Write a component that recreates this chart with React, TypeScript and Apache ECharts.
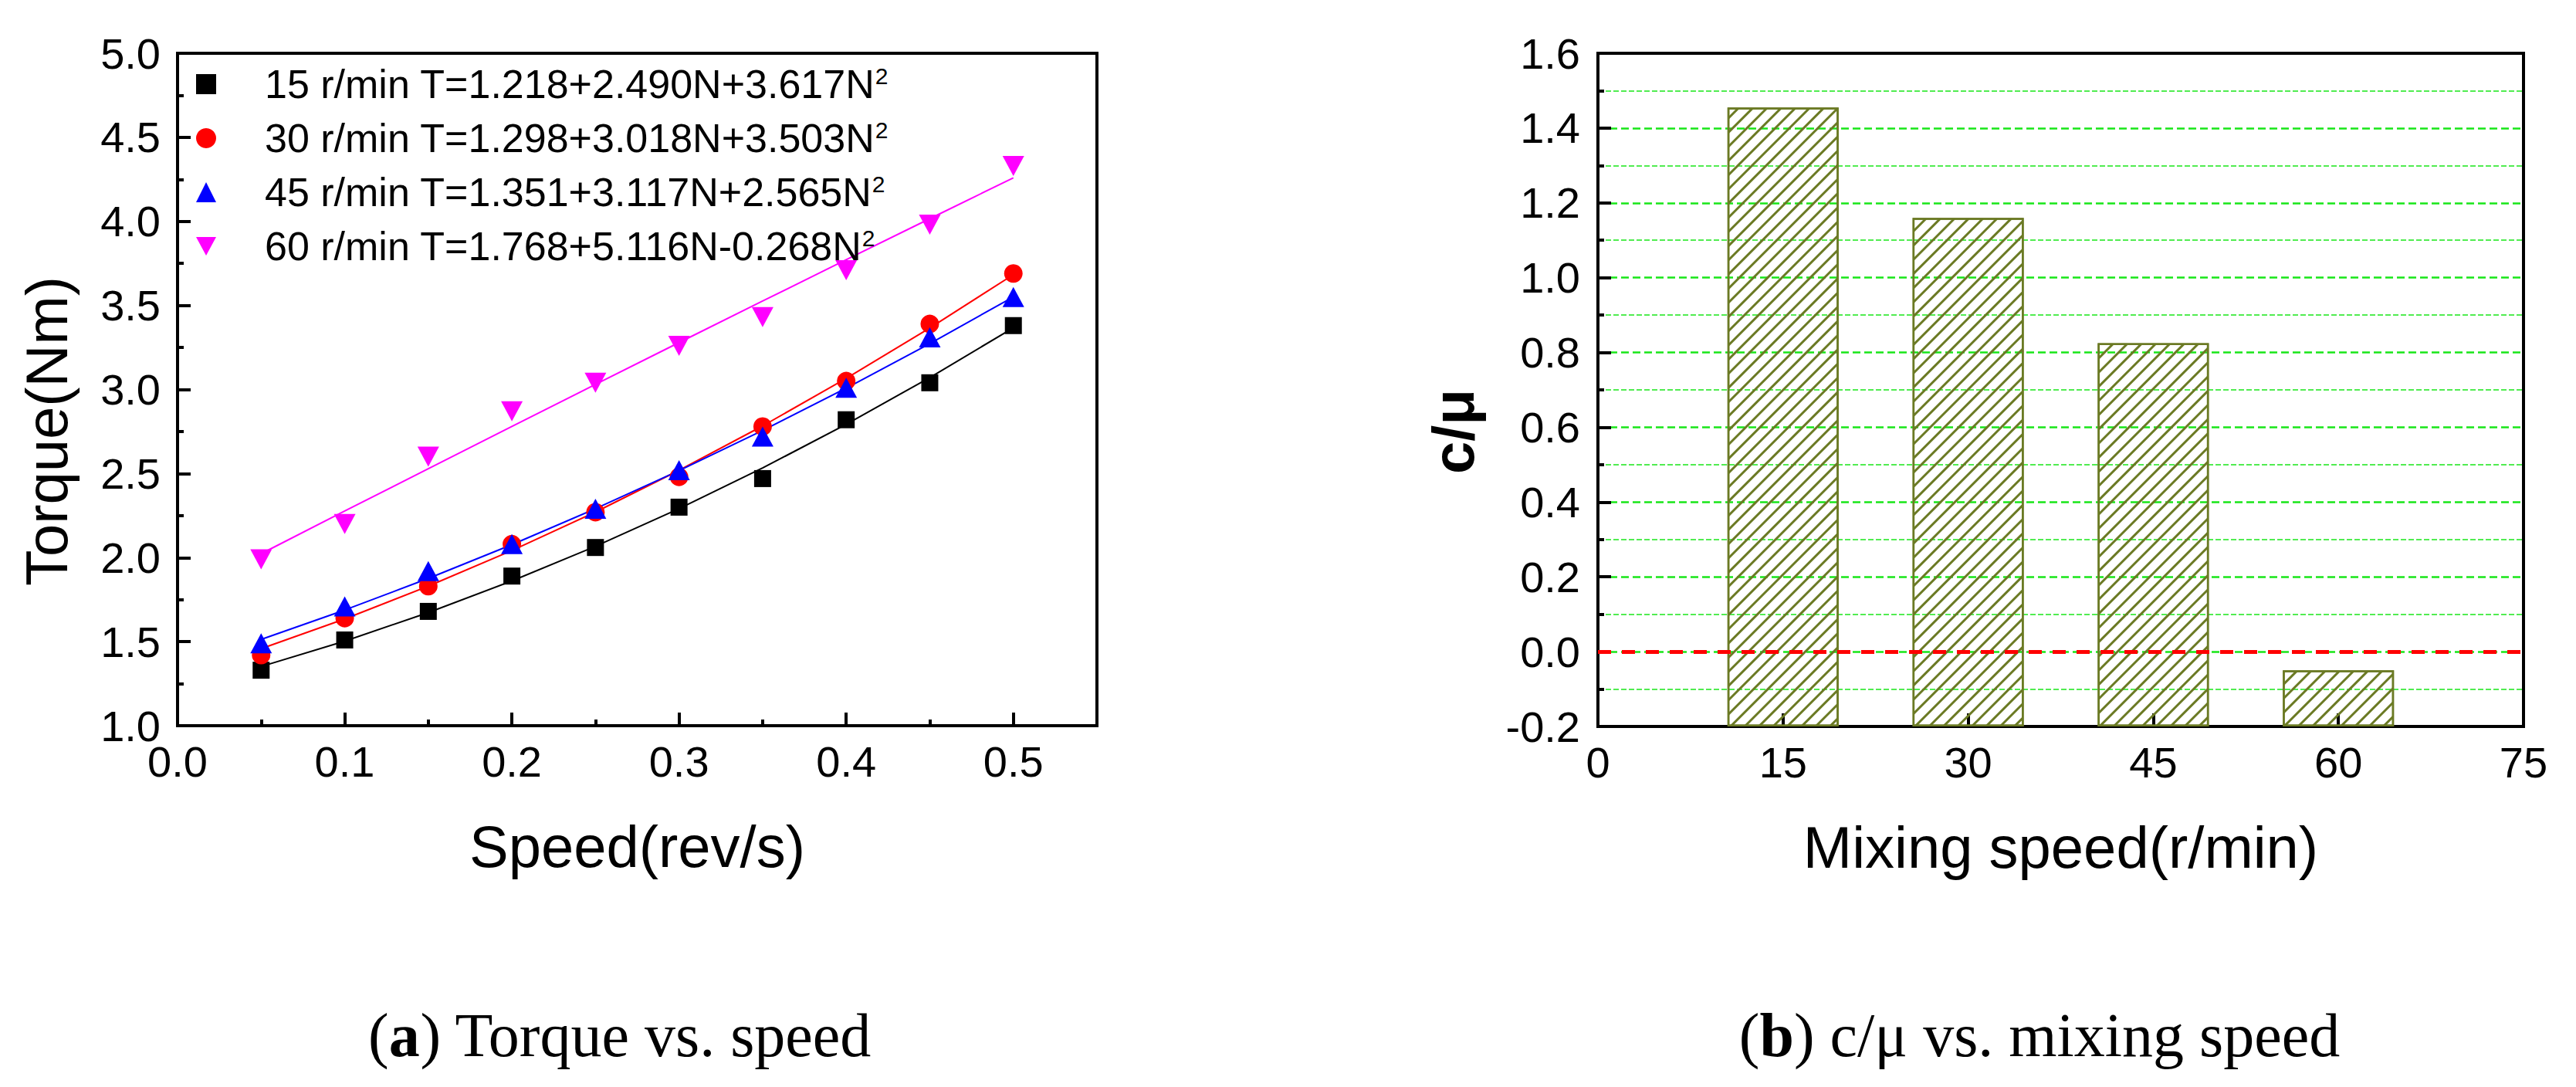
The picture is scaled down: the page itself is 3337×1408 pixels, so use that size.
import { useEffect, useRef } from 'react'
import * as echarts from 'echarts'

// panel (a): torque vs speed
const speeds = [0.05, 0.1, 0.15, 0.2, 0.25, 0.3, 0.35, 0.4, 0.45, 0.5]
const torque15 = [1.33, 1.51, 1.68, 1.89, 2.06, 2.3, 2.47, 2.82, 3.04, 3.38]
const torque30 = [1.42, 1.64, 1.83, 2.08, 2.27, 2.48, 2.78, 3.05, 3.39, 3.69]
const torque45 = [1.49, 1.71, 1.92, 2.08, 2.29, 2.52, 2.72, 3.01, 3.31, 3.55]
const torque60 = [1.99, 2.2, 2.6, 2.87, 3.04, 3.26, 3.43, 3.71, 3.98, 4.33]
const fit15 = [1.352, 1.503, 1.673, 1.861, 2.067, 2.291, 2.533, 2.793, 3.071, 3.367]
const fit30 = [1.458, 1.635, 1.83, 2.042, 2.271, 2.519, 2.783, 3.066, 3.366, 3.683]
const fit45 = [1.513, 1.688, 1.876, 2.077, 2.291, 2.517, 2.756, 3.008, 3.273, 3.551]
const fit60 = [2.023, 2.277, 2.529, 2.78, 3.03, 3.279, 3.526, 3.772, 4.016, 4.259]
const seriesNames = ['15 r/min', '30 r/min', '45 r/min', '60 r/min']
const fitTexts = ['T=1.218+2.490N+3.617N', 'T=1.298+3.018N+3.503N', 'T=1.351+3.117N+2.565N', 'T=1.768+5.116N-0.268N']

// panel (b): c/mu vs mixing speed
const mixingSpeeds = [15, 30, 45, 60]
const cOverMu = [1.455, 1.16, 0.825, -0.05]

const SANS = 'Liberation Sans'
const SERIF = 'Liberation Serif'
const OLIVE = '#6b7a24'
const GREEN = '#19e619'
const DOWN_TRIANGLE = 'path://M0,0L28,0L14,26Z'

function pairs(xs: number[], ys: number[]) {
  return xs.map((x, i) => [x, ys[i]])
}

function baseAxis(gridIndex: number) {
  return {
    gridIndex,
    type: 'value' as const,
    axisLine: { show: true, onZero: false, lineStyle: { color: '#000', width: 4 } },
    axisTick: { show: true, inside: true, length: 17, lineStyle: { color: '#000', width: 4 } },
    minorTick: { show: true, splitNumber: 2, length: 8, lineStyle: { color: '#000', width: 4 } },
    splitLine: { show: false },
    nameLocation: 'middle' as const,
    nameTextStyle: { fontFamily: SANS, fontSize: 76, color: '#000' },
  }
}

function caption(letter: string, rest: string, left: number) {
  return {
    text: `{p|(}{b|${letter}}{p|) ${rest}}`,
    left,
    top: 1296,
    textAlign: 'center',
    textStyle: {
      rich: {
        b: { fontFamily: SERIF, fontSize: 80, fontWeight: 'bold', color: '#000' },
        p: { fontFamily: SERIF, fontSize: 80, fontWeight: 'normal', color: '#000' },
      },
    },
  }
}

export default function App() {
  const ref = useRef<HTMLDivElement | null>(null)

  useEffect(() => {
    const host = ref.current
    if (!host) return
    document.body.style.margin = '0'
    const chart = echarts.init(host, undefined, { renderer: 'svg' })

    const scatterDefs = [
      { name: seriesNames[0], data: torque15, fit: fit15, color: '#000000', symbol: 'rect', size: 22 },
      { name: seriesNames[1], data: torque30, fit: fit30, color: '#ff0000', symbol: 'circle', size: 24 },
      { name: seriesNames[2], data: torque45, fit: fit45, color: '#0000ff', symbol: 'triangle', size: [28, 26] },
      { name: seriesNames[3], data: torque60, fit: fit60, color: '#ff00ff', symbol: DOWN_TRIANGLE, size: [28, 26] },
    ]

    const series: any[] = []
    scatterDefs.forEach((d) => {
      series.push({
        name: d.name + ' fit',
        type: 'line',
        xAxisIndex: 0,
        yAxisIndex: 0,
        data: pairs(speeds, d.fit),
        showSymbol: false,
        symbol: 'none',
        lineStyle: { color: d.color, width: 2 },
        z: 2,
      })
    })
    scatterDefs.forEach((d) => {
      series.push({
        name: d.name,
        type: 'scatter',
        xAxisIndex: 0,
        yAxisIndex: 0,
        data: pairs(speeds, d.data),
        symbol: d.symbol,
        symbolSize: d.size,
        itemStyle: { color: d.color, opacity: 1 },
        z: 3,
      })
    })
    series.push({
      name: 'c/μ',
      type: 'bar',
      xAxisIndex: 1,
      yAxisIndex: 1,
      data: pairs(mixingSpeeds, cOverMu),
      barWidth: 144,
      itemStyle: {
        color: 'rgba(0,0,0,0)',
        borderColor: OLIVE,
        borderWidth: 2.5,
        decal: {
          symbol: 'rect',
          symbolSize: 1,
          color: OLIVE,
          backgroundColor: 'rgba(0,0,0,0)',
          dashArrayX: [1, 0],
          dashArrayY: [2.5, 9.5],
          rotation: -Math.PI / 4,
        },
      },
      markLine: {
        silent: true,
        symbol: 'none',
        label: { show: false },
        lineStyle: { color: '#ff0000', width: 5, type: [17, 14] },
        data: [{ yAxis: 0 }],
      },
      z: 2,
    })

    chart.setOption({
      animation: false,
      backgroundColor: '#fff',
      textStyle: { fontFamily: SANS },
      grid: [
        { left: 230, top: 69, width: 1191, height: 871, show: true, borderColor: '#000', borderWidth: 4, backgroundColor: 'transparent' },
        { left: 2070, top: 69, width: 1199, height: 872, show: true, borderColor: '#000', borderWidth: 4, backgroundColor: 'transparent' },
      ],
      title: [caption('a', 'Torque vs. speed', 798), caption('b', 'c/μ vs. mixing speed', 2637)],
      legend: {
        data: seriesNames,
        orient: 'vertical',
        left: 254,
        top: 83,
        padding: 0,
        itemWidth: 26,
        itemHeight: 26,
        itemGap: 18,
        selectedMode: false,
        formatter: (name: string) => `{t|${name} ${fitTexts[seriesNames.indexOf(name)]}}{s|2}`,
        textStyle: {
          padding: [0, 0, 0, 58],
          rich: {
            t: { fontFamily: SANS, fontSize: 52, lineHeight: 52, color: '#000' },
            s: { fontFamily: SANS, fontSize: 30, lineHeight: 52, verticalAlign: 'top', color: '#000' },
          },
        },
      },
      xAxis: [
        {
          ...baseAxis(0),
          min: 0,
          max: 0.55,
          interval: 0.1,
          name: 'Speed(rev/s)',
          nameGap: 118,
          axisLabel: {
            fontFamily: SANS,
            fontSize: 56,
            color: '#000',
            margin: 18,
            showMaxLabel: false,
            formatter: (v: number) => v.toFixed(1),
          },
        },
        {
          ...baseAxis(1),
          min: 0,
          max: 75,
          interval: 15,
          minorTick: { show: false },
          name: 'Mixing speed(r/min)',
          nameGap: 118,
          axisLabel: { fontFamily: SANS, fontSize: 56, color: '#000', margin: 18 },
        },
      ],
      yAxis: [
        {
          ...baseAxis(0),
          min: 1,
          max: 5,
          interval: 0.5,
          name: 'Torque(Nm)',
          nameGap: 132,
          nameTextStyle: { fontFamily: SANS, fontSize: 76, color: '#000', padding: [0, 108, 0, 0] },
          axisLabel: { fontFamily: SANS, fontSize: 56, color: '#000', margin: 22, formatter: (v: number) => v.toFixed(1) },
        },
        {
          ...baseAxis(1),
          min: -0.2,
          max: 1.6,
          interval: 0.2,
          startValue: -0.2,
          name: 'c/μ',
          nameGap: 150,
          nameTextStyle: { fontFamily: SANS, fontSize: 76, fontWeight: 'bold', color: '#000', padding: [0, 108, 0, 0] },
          axisLabel: { fontFamily: SANS, fontSize: 56, color: '#000', margin: 23, formatter: (v: number) => v.toFixed(1) },
          splitLine: { show: true, showMinLine: false, showMaxLine: false, lineStyle: { color: GREEN, width: 2.5, type: [10, 5] } },
          minorSplitLine: { show: true, lineStyle: { color: GREEN, width: 1.5, type: [7, 3] } },
        },
      ],
      series,
    } as any)

    return () => {
      chart.dispose()
    }
  }, [])

  return <div ref={ref} style={{ position: 'fixed', left: 0, top: 0, width: 3337, height: 1408, background: '#fff' }} />
}
